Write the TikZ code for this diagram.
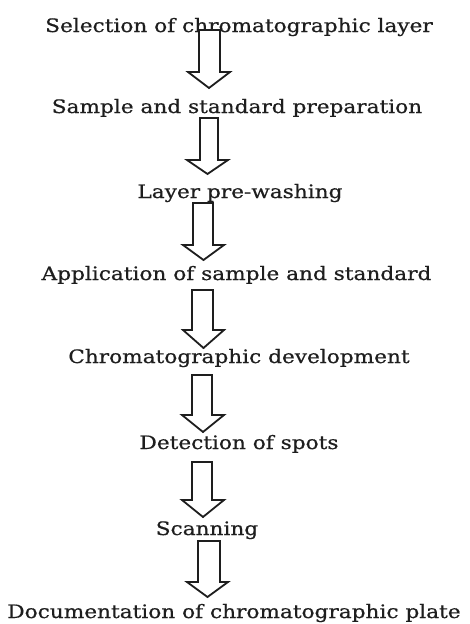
\documentclass[tikz,border=0pt]{standalone}
\usepackage{fontspec}
\newfontfamily\bkfont[FakeStretch=1.17,FakeBold=0.6]{DejaVu Serif}
\definecolor{ink}{RGB}{30,30,30}
\newcommand{\blkarrow}[8]{%
  % #1 shaft left, #2 shaft right, #3 top, #4 head start, #5 head left, #6 head right, #7 tip x, #8 tip y
  \draw[blockarrow] (#1,#3) -- (#2,#3) -- (#2,#4) -- (#6,#4) -- (#7,#8) -- (#5,#4) -- (#1,#4) -- cycle;}
\begin{document}
\begin{tikzpicture}[x=1pt,y=-1pt,
  steptext/.style={anchor=base, inner sep=0pt, text=ink, font=\bkfont\fontsize{18.5}{20}\selectfont},
  blockarrow/.style={draw=ink, line width=1.8pt, fill=white, line join=miter}]
\useasboundingbox[fill=white] (0,0) rectangle (469,624);
\node[steptext] (t1) at (239,32) {Selection of chromatographic layer};
\node[steptext] (t2) at (237,113) {Sample and standard preparation};
\node[steptext] (t3) at (240,198) {Layer pre-washing};
\node[steptext] (t4) at (236.5,280) {Application of sample and standard};
\node[steptext] (t5) at (239,363) {Chromatographic development};
\node[steptext] (t6) at (239,449) {Detection of spots};
\node[steptext] (t7) at (207,535) {Scanning};
\node[steptext] (t8) at (234,618) {Documentation of chromatographic plate};
\blkarrow{199}{220}{30}{72}{188}{230}{209}{88}
\blkarrow{200}{218}{118}{160}{187}{228}{207.5}{174}
\blkarrow{193}{213}{203}{245}{183}{224}{203.5}{260}
\blkarrow{192}{213}{290}{330}{183}{224}{203.5}{348}
\blkarrow{192}{212}{375}{415}{182}{224}{203}{432}
\blkarrow{192}{212}{462}{500}{182}{224}{203}{517}
\blkarrow{198}{220}{541}{582}{187}{228}{207.5}{597}
\end{tikzpicture}
\end{document}
